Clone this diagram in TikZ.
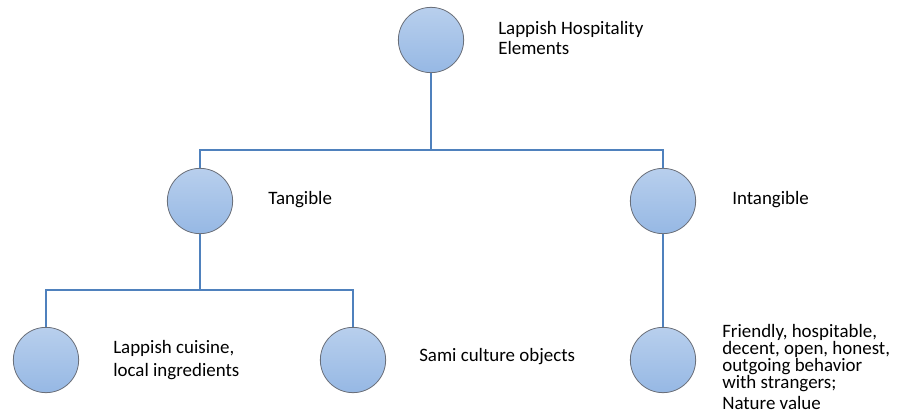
\documentclass[tikz,border=0pt]{standalone}
\usepackage{fontspec}
\setmainfont{Carlito}
\usetikzlibrary{positioning}

\definecolor{linkblue}{RGB}{79,129,189}
\definecolor{balltop}{RGB}{184,207,237}
\definecolor{ballbot}{RGB}{150,184,228}
\definecolor{ballrim}{RGB}{105,110,120}

\begin{document}
\begin{tikzpicture}[x=0.75pt, y=-0.75pt,
    ball/.style={circle, minimum size=49pt, inner sep=0pt, draw=ballrim, line width=0.6pt,
                 top color=balltop, bottom color=ballbot},
    link/.style={linkblue, line width=2pt},
    lbl/.style={anchor=west, align=left, font=\fontsize{14.2}{12.8}\selectfont, inner sep=0pt}]
    \useasboundingbox (0,0) rectangle (903,414);

    % Узлы
    \node[ball] (root) at (431,40) {};
    \node[ball] (tan) at (200,201) {};
    \node[ball] (intan) at (663,201) {};
    \node[ball] (cuis) at (46,360) {};
    \node[ball] (sami) at (353,360) {};
    \node[ball] (nat) at (663,360) {};

    % Развилки
    \coordinate (j1) at (431,150);
    \coordinate (j2) at (200,290);

    % Связи
    \draw[link] (root) -- (j1);
    \draw[link] (j1) -| (tan);
    \draw[link] (j1) -| (intan);
    \draw[link] (tan) -- (j2);
    \draw[link] (j2) -| (cuis);
    \draw[link] (j2) -| (sami);
    \draw[link] (intan) -- (nat);

    % Подписи
    \node[lbl] (lroot) at (498,38) {Lappish Hospitality\\[2pt]Elements};
    \node[lbl] (ltan) at (268,200) {Tangible};
    \node[lbl] (lintan) at (732,200) {Intangible};
    \node[lbl] (lcuis) at (113,360) {Lappish cuisine,\\[5pt]local ingredients};
    \node[lbl] (lsami) at (419,357) {Sami culture objects};
    \node[lbl] (lnat) at (722,367) {Friendly, hospitable,\\decent, open, honest,\\outgoing behavior\\with strangers;\\[3pt]Nature value};
\end{tikzpicture}
\end{document}
